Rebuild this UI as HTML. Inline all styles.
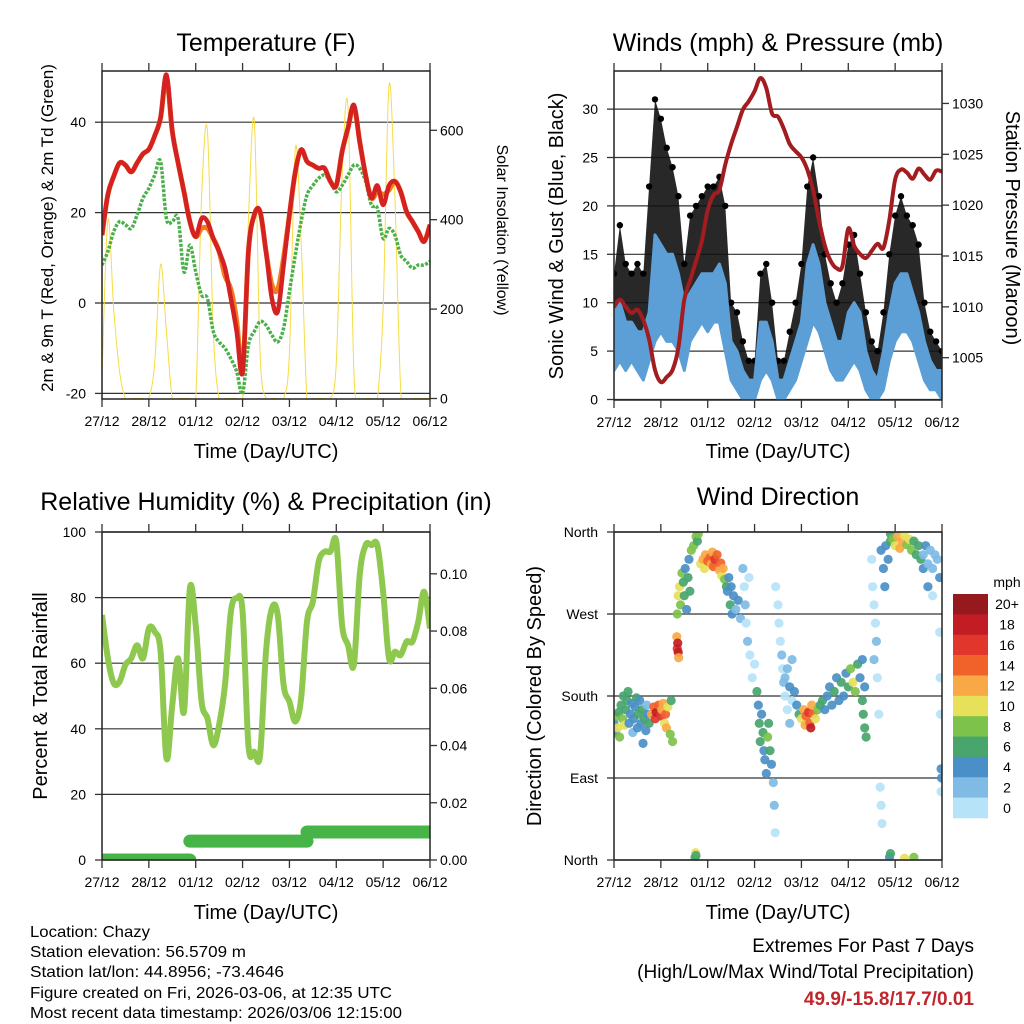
<!DOCTYPE html>
<html><head><meta charset="utf-8"><style>
html,body{margin:0;padding:0;background:#fff;}
svg{display:block;font-family:"Liberation Sans",Arial,sans-serif;}
</style></head><body>
<svg id="chart" width="1024" height="1024" viewBox="0 0 1024 1024">
<defs>
<clipPath id="clip1"><rect x="102" y="71" width="328" height="328"/></clipPath>
<clipPath id="clip2"><rect x="614" y="71" width="328" height="329"/></clipPath>
<clipPath id="clip3"><rect x="102" y="532" width="328" height="328"/></clipPath>
<clipPath id="clip4"><rect x="614" y="532" width="328" height="328"/></clipPath>
</defs>
<g id="layer-grid"></g>
<g id="layer-data"></g>
<g id="layer-axes"></g>
<g font-size="25" text-anchor="middle" fill="#000">
<text x="266" y="51">Temperature (F)</text>
<text x="778" y="51">Winds (mph) &amp; Pressure (mb)</text>
<text x="266" y="510">Relative Humidity (%) &amp; Precipitation (in)</text>
<text x="778" y="505">Wind Direction</text>
</g>
<g font-size="20" text-anchor="middle" fill="#000">
<text x="266" y="458">Time (Day/UTC)</text>
<text x="778" y="458">Time (Day/UTC)</text>
<text x="266" y="919">Time (Day/UTC)</text>
<text x="778" y="919">Time (Day/UTC)</text>
<text transform="translate(53,228) rotate(-90)" font-size="17">2m &amp; 9m T (Red, Orange) &amp; 2m Td (Green)</text>
<text transform="translate(497,230) rotate(90)" font-size="16">Solar Insolation (Yellow)</text>
<text transform="translate(563,236) rotate(-90)">Sonic Wind &amp; Gust (Blue, Black)</text>
<text transform="translate(1006,228) rotate(90)">Station Pressure (Maroon)</text>
<text transform="translate(47,696) rotate(-90)">Percent &amp; Total Rainfall</text>
<text transform="translate(541,696) rotate(-90)">Direction (Colored By Speed)</text>
</g>
<g id="colorbar"></g>
<g font-size="16" fill="#000">
<text x="30" y="937" textLength="120" lengthAdjust="spacingAndGlyphs">Location: Chazy</text>
<text x="30" y="957" textLength="216" lengthAdjust="spacingAndGlyphs">Station elevation: 56.5709 m</text>
<text x="30" y="977" textLength="254" lengthAdjust="spacingAndGlyphs">Station lat/lon: 44.8956; -73.4646</text>
<text x="30" y="998" textLength="362" lengthAdjust="spacingAndGlyphs">Figure created on Fri, 2026-03-06, at 12:35 UTC</text>
<text x="30" y="1018" textLength="372" lengthAdjust="spacingAndGlyphs">Most recent data timestamp: 2026/03/06 12:15:00</text>
</g>
<g font-size="19" text-anchor="end" fill="#000">
<text x="974" y="952">Extremes For Past 7 Days</text>
<text x="974" y="978">(High/Low/Max Wind/Total Precipitation)</text>
<text x="974" y="1005" fill="#c0262c" font-weight="bold">49.9/-15.8/17.7/0.01</text>
</g>
</svg>
<script>
const dayLabels = ['27/12','28/12','01/12','02/12','03/12','04/12','05/12','06/12'];
const tStep = 0.125;
const tempRed = [15,24,28,31,30.5,29,31,33,34,37,41,50.5,38,31,24.6,18,14.7,18.7,18,14.3,11.4,7.7,1,-6.3,-15.2,11.4,19.5,20.2,11.4,1,-1.9,8.4,19.5,29,33.9,31.3,30.5,29.8,29.8,26.9,26,33.5,38.7,43.8,35.7,28.3,23.2,26,21.7,26,26.9,24.6,20.2,18,15.8,13.6,17.3];
const tempOrange = [15,24,28,31,30.5,29,31,33,34,37,41,50,38,31,24.6,18,14.7,16.5,16.5,14.3,11.4,6,3,-4,-15,11.4,19.5,20.2,11.4,4,3,10,19.5,29,33.9,31.3,30.5,29.8,29.8,26.9,26,33.5,38.7,43.5,35.7,28.3,23.2,24.6,24,25,26.9,24.6,20.2,18,15.8,13.6,17.3];
const dewGreen = [8.4,11.4,15.8,18,17.3,16.5,19.5,23.2,25.4,28.3,31.3,18.7,18,18.7,6.9,12.8,6.9,1.8,1,-6.3,-8.6,-10,-12.3,-15.2,-20,-9.3,-6.3,-4.1,-4.9,-7.1,-8.6,-5.6,2.5,10.6,18,23.9,26,27.6,28.3,26.9,24.6,26,28.3,30.5,29.8,26.9,21.7,21,14.3,16.5,15,10.6,9.2,7.7,8.4,8.4,9.2];
const solar = [50,400,200,60,0,0,0,0,0,80,300,150,0,0,0,0,0,450,600,150,0,0,0,0,0,400,620,100,0,0,0,0,100,560,350,0,0,0,0,0,80,500,650,60,0,0,0,0,200,700,450,20,0,0,0,0,0];
const pressure = [1010,1010.7,1010,1009.4,1009.7,1008.7,1006.8,1003.8,1002.6,1003.1,1003.8,1006,1010.7,1012.6,1014.5,1016.5,1019.5,1021,1021.5,1024,1026,1027.7,1029.4,1030.2,1031.2,1032.5,1031.5,1029,1028.7,1027.5,1026,1025.3,1024.7,1023.5,1021.5,1018.5,1016,1014.5,1013.8,1014,1017.7,1016,1015.2,1014.8,1015.5,1016.2,1015.8,1018.5,1022.5,1023.5,1023.2,1022.6,1023.6,1023,1022.5,1023.4,1023.3];
const windLo = [3,4,3,4,3,2,4,6,7,6,6,5,3,6,7,8,7,8,8,5,2,1,0,0,0,2,3,2,0,0,1,2,4,6,8,7,5,3,2,2,3,4,3,1,0,0,1,4,6,7,7,6,4,2,1,1,0];
const windHi = [9,10,8,8,7,7,9,17,16,15,15,13,10,11,12,13,13,13,14,12,6,5,3,2,2,8,8,6,2,2,4,6,8,14,16,14,10,8,6,6,9,10,9,5,3,2,5,9,12,13,13,11,9,6,4,3,3];
const gust = [13,18,14,13,14,13,22,31,29,26,24,21,14,19,20,21,22,22,23,20,10,9,6,4,4,13,14,10,4,4,7,10,14,22,25,21,15,12,10,12,16,17,13,9,6,5,9,15,19,21,19,18,16,10,7,6,5];
const humidity = [74.7,61.5,53.9,54.4,59.5,61.5,65.5,61.5,70.6,69.6,63.5,31,47.3,61.5,45.2,82.8,71.6,48.3,43.2,35,41.2,53.4,75.7,79.8,75.7,35,33,32,63.5,76.7,74.7,53.4,48.3,42.2,49.3,72.7,78.8,91,94,94,97,71.6,65.5,59.5,86.9,96,96,96,81.8,61.5,63.5,62.5,66.6,66.6,72.7,81.8,70.6];
const precip = [0,0,0,0,0,0,0,0,0,0,0,0,0,0,0,0.0066,0.0066,0.0066,0.0066,0.0066,0.0066,0.0066,0.0066,0.0066,0.0066,0.0066,0.0066,0.0066,0.0066,0.0066,0.0066,0.0066,0.0066,0.0066,0.0066,0.0098,0.0098,0.0098,0.0098,0.0098,0.0098,0.0098,0.0098,0.0098,0.0098,0.0098,0.0098,0.0098,0.0098,0.0098,0.0098,0.0098,0.0098,0.0098,0.0098,0.0098,0.0098];
const dirT = [0.0,0.03,0.05,0.08,0.1,0.12,0.15,0.18,0.2,0.22,0.25,0.28,0.3,0.32,0.35,0.38,0.4,0.42,0.45,0.48,0.5,0.52,0.55,0.58,0.6,0.62,0.65,0.68,0.7,0.72,0.75,
0.8,0.85,0.88,0.9,0.95,1.0,1.02,1.05,1.08,1.1,1.12,1.15,1.2,1.22,1.25,
1.34,1.35,1.36,1.37,1.38,
1.35,1.37,1.4,1.42,1.45,1.48,1.5,1.52,1.55,1.58,1.6,1.62,1.65,1.7,
1.75,1.78,1.8,
1.85,1.9,1.93,1.95,2.0,2.05,2.08,2.1,2.12,2.15,2.2,2.25,2.28,2.3,2.33,2.36,2.4,
2.42,2.45,2.48,2.5,2.52,2.55,2.6,2.65,2.7,
2.75,2.78,2.8,2.82,2.85,2.88,2.9,2.95,3.0,
3.05,3.08,3.1,3.12,3.15,3.18,3.2,3.22,3.25,3.28,3.3,3.33,3.36,3.4,3.42,3.44,
3.45,3.5,3.52,3.55,3.58,3.6,3.62,3.65,3.7,3.75,3.8,
3.65,3.7,3.75,3.8,3.85,3.9,3.95,
4.0,4.05,4.08,4.1,4.15,4.18,4.2,4.22,4.25,4.3,4.35,4.4,
4.45,4.5,4.55,4.6,4.65,4.7,4.75,4.8,4.85,4.9,4.95,5.0,5.05,5.1,5.15,5.2,5.25,5.3,5.35,
5.3,5.32,5.35,5.38,
5.5,5.52,5.55,5.58,5.6,5.62,5.65,5.68,5.7,5.72,5.55,
5.7,5.75,5.78,5.8,5.85,5.9,
5.9,5.95,6.0,6.05,6.1,6.15,6.2,6.25,6.3,6.35,6.4,6.45,6.5,6.55,6.6,
6.6,6.65,6.7,6.75,6.8,6.85,6.9,6.95,6.7,6.8,
6.95,6.96,6.97,6.98,6.99,6.98,
1.73,1.74,1.75,5.88,5.9,6.2,6.4];
const dirDeg = [150,140,158,145,162,135,170,155,180,148,165,175,185,150,160,172,140,155,168,178,145,160,175,150,165,128,155,142,170,160,150,
160,168,155,162,170,158,165,172,150,160,145,168,138,175,130,
245,232,238,228,222,
270,290,300,280,315,305,290,320,275,310,330,295,340,345,
355,350,358,
325,330,320,335,328,332,325,338,322,330,335,318,326,312,320,308,300,
295,310,280,300,270,290,275,285,265,
320,300,280,260,240,310,225,200,215,
185,170,150,130,160,140,120,110,95,135,150,120,105,85,60,30,
300,280,260,240,225,210,195,180,165,150,175,
200,210,190,220,185,170,160,
155,165,148,158,162,150,145,170,160,155,165,170,
175,165,180,190,170,185,200,175,195,180,205,190,210,195,185,215,200,220,190,
175,160,145,135,
330,300,280,260,240,200,160,80,60,40,220,
340,320,300,345,330,350,
358,352,345,355,342,350,356,346,352,340,350,335,345,330,320,
335,345,325,340,320,335,330,310,300,290,
250,200,160,100,90,75,
3,8,5,3,7,2,3];
const dirSpd = [5,4,8,10,7,9,6,8,7,10,6,7,6,4,5,4,3,4,5,7,4,6,4,5,7,4,6,5,3,5,6,
12,14,16,18,15,16,13,12,11,14,12,10,8,7,9,
12,16,18,18,12,
8,10,11,8,9,6,7,5,4,6,4,7,8,9,
8,7,8,
11,12,10,13,14,15,13,12,14,16,15,13,14,10,12,8,6,
5,4,6,4,5,4,3,4,3,
2,1,2,1,2,1,0,0,1,
6,4,6,7,5,6,4,5,4,8,6,7,4,3,2,1,
0,1,0,1,2,1,2,0,1,2,1,
3,2,4,3,4,5,6,
10,12,13,15,16,14,18,12,14,11,9,7,
6,5,4,5,4,6,5,4,6,4,5,6,8,10,9,7,5,4,5,
7,6,7,7,
1,0,1,1,2,0,1,0,0,0,2,
4,5,4,4,5,6,
7,9,11,12,13,12,10,9,11,8,7,6,6,6,5,
3,4,3,2,3,2,3,4,4,1,
1,1,1,4,4,1,
6,10,6,4,6,10,8];
const speedColors = ['#b6e3f8','#7fbbe5','#4a8fc7','#48a56c','#7dc24b','#e6e05a','#f8a844','#f1622a','#e1362b','#c21c25','#96191d'];
const speedLabels = ['0','2','4','6','8','10','12','14','16','18','20+'];

const NS='http://www.w3.org/2000/svg';
const gGrid=document.getElementById('layer-grid');
const gData=document.getElementById('layer-data');
const gAxes=document.getElementById('layer-axes');
function mk(tag,attrs,parent){const e=document.createElementNS(NS,tag);for(const k in attrs)e.setAttribute(k,attrs[k]);parent.appendChild(e);return e;}
function smooth(pts){if(!pts.length)return'';let d='M'+pts[0][0].toFixed(1)+','+pts[0][1].toFixed(1);for(let i=0;i<pts.length-1;i++){const p0=pts[i-1]||pts[i],p1=pts[i],p2=pts[i+1],p3=pts[i+2]||p2;const c1=[p1[0]+(p2[0]-p0[0])/6,p1[1]+(p2[1]-p0[1])/6],c2=[p2[0]-(p3[0]-p1[0])/6,p2[1]-(p3[1]-p1[1])/6];d+='C'+c1[0].toFixed(1)+','+c1[1].toFixed(1)+' '+c2[0].toFixed(1)+','+c2[1].toFixed(1)+' '+p2[0].toFixed(1)+','+p2[1].toFixed(1);}return d;}
function lin(pts){return 'M'+pts.map(q=>q[0].toFixed(1)+','+q[1].toFixed(1)).join('L');}

const P1={x0:102,x1:430,y0:71,y1:399}, P2={x0:614,x1:942,y0:71,y1:400}, P3={x0:102,x1:430,y0:532,y1:860}, P4={x0:614,x1:942,y0:532,y1:860};
const xS=(P,t)=>P.x0+t*(P.x1-P.x0)/7;
const yTemp=v=>303-v*4.52;
const ySolar=v=>398.5-v*0.447;
const yWind=v=>399.5-v*9.68;
const yPres=v=>357.7-(v-1005)*10.17;
const yRH=v=>860-v*3.28;
const yPrecip=v=>860-v*2862;
const yDir=v=>860-v*328/360;
const tOf=i=>i*tStep;

function frame(P,name){
  const r=mk('rect',{x:P.x0,y:P.y0,width:P.x1-P.x0,height:P.y1-P.y0,fill:'none',stroke:'#222','stroke-width':1.5},gAxes);
  
  
  for(let i=0;i<dayLabels.length;i++){
    const x=xS(P,i);
    mk('line',{x1:x,y1:P.y1,x2:x,y2:P.y1+8,stroke:'#333','stroke-width':1.3},gAxes);
    mk('line',{x1:x,y1:P.y0,x2:x,y2:P.y0-8,stroke:'#333','stroke-width':1.3},gAxes);
    const t=mk('text',{x:x,y:P.y1+27,'font-size':14,'text-anchor':'middle'},gAxes);
    t.textContent=dayLabels[i];
    
    
  }
}
function yAxis(P,vals,fy,labels,side,name,grid){
  vals.forEach((v,i)=>{const y=fy(v);
    if(grid) mk('line',{x1:P.x0,y1:y,x2:P.x1,y2:y,stroke:'#333','stroke-width':1.2},gGrid);
    const xe=side==='left'?P.x0:P.x1, dx=side==='left'?-7:7;
    mk('line',{x1:xe,y1:y,x2:xe+dx,y2:y,stroke:'#333','stroke-width':1.3},gAxes);
    const t=mk('text',{x:side==='left'?P.x0-16:P.x1+10,y:y+5,'font-size':14,'text-anchor':side==='left'?'end':'start'},gAxes);
    t.textContent=labels[i];
    
    
  });
}
frame(P1,'temperature');frame(P2,'winds');frame(P3,'humidity');frame(P4,'direction');
yAxis(P1,[-20,0,20,40],yTemp,['-20','0','20','40'],'left','temp-y',true);
yAxis(P1,[0,200,400,600],ySolar,['0','200','400','600'],'right','solar-y',false);
yAxis(P2,[0,5,10,15,20,25,30],yWind,['0','5','10','15','20','25','30'],'left','wind-y',true);
yAxis(P2,[1005,1010,1015,1020,1025,1030],yPres,['1005','1010','1015','1020','1025','1030'],'right','pressure-y',false);
yAxis(P3,[0,20,40,60,80,100],yRH,['0','20','40','60','80','100'],'left','humidity-y',true);
yAxis(P3,[0,0.02,0.04,0.06,0.08,0.10],yPrecip,['0.00','0.02','0.04','0.06','0.08','0.10'],'right','precip-y',false);
yAxis(P4,[0,90,180,270,360],yDir,['North','East','South','West','North'],'left','direction-y',true);

// Panel 1
const g1=mk('g',{'clip-path':'url(#clip1)'},gData);
let p=mk('path',{d:smooth(solar.map((v,i)=>[xS(P1,tOf(i)),ySolar(v)])),fill:'none',stroke:'#f7dc45','stroke-width':1},g1);


p=mk('path',{d:smooth(dewGreen.map((v,i)=>[xS(P1,tOf(i)),yTemp(v)])),fill:'none',stroke:'#4cb04a','stroke-width':3.5,'stroke-dasharray':'3 1.5'},g1);


p=mk('path',{d:smooth(tempOrange.map((v,i)=>[xS(P1,tOf(i)),yTemp(v)])),fill:'none',stroke:'#f47c20','stroke-width':5,'stroke-linejoin':'round'},g1);


p=mk('path',{d:smooth(tempRed.map((v,i)=>[xS(P1,tOf(i)),yTemp(v)])),fill:'none',stroke:'#d42222','stroke-width':4.5,'stroke-linejoin':'round'},g1);



// Panel 2
const g2=mk('g',{'clip-path':'url(#clip2)'},gData);
const loPts=windLo.map((v,i)=>[xS(P2,tOf(i)),yWind(v)]);
const gustPts=gust.map((v,i)=>[xS(P2,tOf(i)),yWind(v)]);
const hiPts=windHi.map((v,i)=>[xS(P2,tOf(i)),yWind(v)]);
const rev=a=>a.slice().reverse();
p=mk('path',{d:lin(gustPts)+'L'+rev(loPts).map(q=>q[0].toFixed(1)+','+q[1].toFixed(1)).join('L')+'Z',fill:'#111','fill-opacity':0.9},g2);


gust.forEach((v,i)=>{
  const c=mk('circle',{cx:xS(P2,tOf(i)),cy:yWind(v),r:3.2,fill:'#000'},g2);
  
  
});
p=mk('path',{d:lin(hiPts)+'L'+rev(loPts).map(q=>q[0].toFixed(1)+','+q[1].toFixed(1)).join('L')+'Z',fill:'#5b9fd6',stroke:'#5b9fd6','stroke-width':3,'stroke-linejoin':'round'},g2);


p=mk('path',{d:smooth(pressure.map((v,i)=>[xS(P2,tOf(i)),yPres(v)])),fill:'none',stroke:'#a31c1f','stroke-width':4,'stroke-linejoin':'round'},g2);



// Panel 3
const g3=mk('g',{'clip-path':'url(#clip3)'},gData);
let s=0;
for(let i=1;i<=precip.length;i++){
  if(i===precip.length||precip[i]!==precip[s]){
    const tA=tOf(s), tB=Math.min(tOf(i),7);
    const l=mk('line',{x1:xS(P3,tA),y1:yPrecip(precip[s]),x2:xS(P3,tB),y2:yPrecip(precip[s]),stroke:'#46b446','stroke-width':13,'stroke-linecap':'round'},g3);
    
    
    s=i;
  }
}
p=mk('path',{d:smooth(humidity.map((v,i)=>[xS(P3,tOf(i)),yRH(v)])),fill:'none',stroke:'#8fc84e','stroke-width':6,'stroke-linejoin':'round'},g3);



// Panel 4
const g4=mk('g',{'clip-path':'url(#clip4)'},gData);
dirT.forEach((t,i)=>{
  const idx=Math.min(10,Math.floor(dirSpd[i]/2));
  const c=mk('circle',{cx:xS(P4,t),cy:yDir(dirDeg[i]),r:4.6,fill:speedColors[idx],'fill-opacity':0.92},g4);
  
  
});

// colorbar
const cb=document.getElementById('colorbar');
const cbTop=594, cbH=224/11;
speedColors.forEach((col,i)=>{
  const k=10-i;
  const y=cbTop+i*cbH;
  const r=mk('rect',{x:953,y:y,width:35,height:cbH+0.3,fill:speedColors[k]},cb);
  
  
  const t=mk('text',{x:1007,y:y+cbH/2+5,'font-size':14,'text-anchor':'middle'},cb);
  t.textContent=speedLabels[k];
  
  
});
const mt=mk('text',{x:1007,y:587,'font-size':14,'text-anchor':'middle'},cb);
mt.textContent='mph';


</script>
</body></html>
